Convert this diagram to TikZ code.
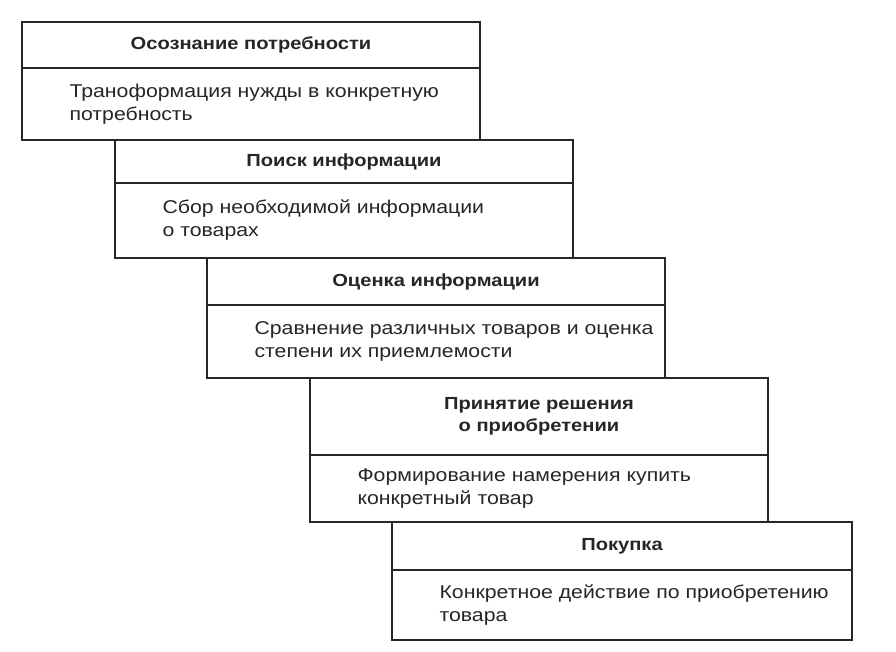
\documentclass[tikz,border=0pt]{standalone}
\usepackage{fontspec}
\setmainfont{Liberation Sans}
\newfontfamily\widefont[FakeStretch=1.15]{Liberation Sans}
\begin{document}
\begin{tikzpicture}[x=1pt,y=-1pt,
  frame/.style={draw=black!85,line width=1.3pt,fill=white},
  ttl/.style={font=\widefont\bfseries\fontsize{17.5}{22}\selectfont,align=center,text=black!85},
  desc/.style={font=\widefont\fontsize{18.5}{23}\selectfont,align=left,anchor=west,text=black!85}]
\useasboundingbox (0,0) rectangle (896,652);
\fill[white] (0,0) rectangle (896,652);
\newcommand\stagebox[8]{%
  \draw[frame] (#1,#2) rectangle (#3,#4);
  \draw[black!85,line width=1.1pt] (#1,#5) -- (#3,#5);
  \node[ttl] (#8t) at ({(#1+#3)/2},{(#2+#5)/2}) {#6};
  \node[desc] (#8d) at ({#1+44},{(#5+#4)/2}) {#7};}
\stagebox{22}{22}{480}{140}{68}{Осознание потребности}{Траноформация нужды в конкретную\\потребность}{a}
\stagebox{115}{140}{573}{258}{183}{Поиск информации}{Сбор необходимой информации\\о товарах}{b}
\stagebox{207}{258}{665}{378}{305}{Оценка информации}{Сравнение различных товаров и оценка\\степени их приемлемости}{c}
\stagebox{310}{378}{768}{522}{455}{Принятие решения\\о приобретении}{Формирование намерения купить\\конкретный товар}{d}
\stagebox{392}{522}{852}{640}{570}{Покупка}{Конкретное действие по приобретению\\товара}{e}
\end{tikzpicture}
\end{document}
